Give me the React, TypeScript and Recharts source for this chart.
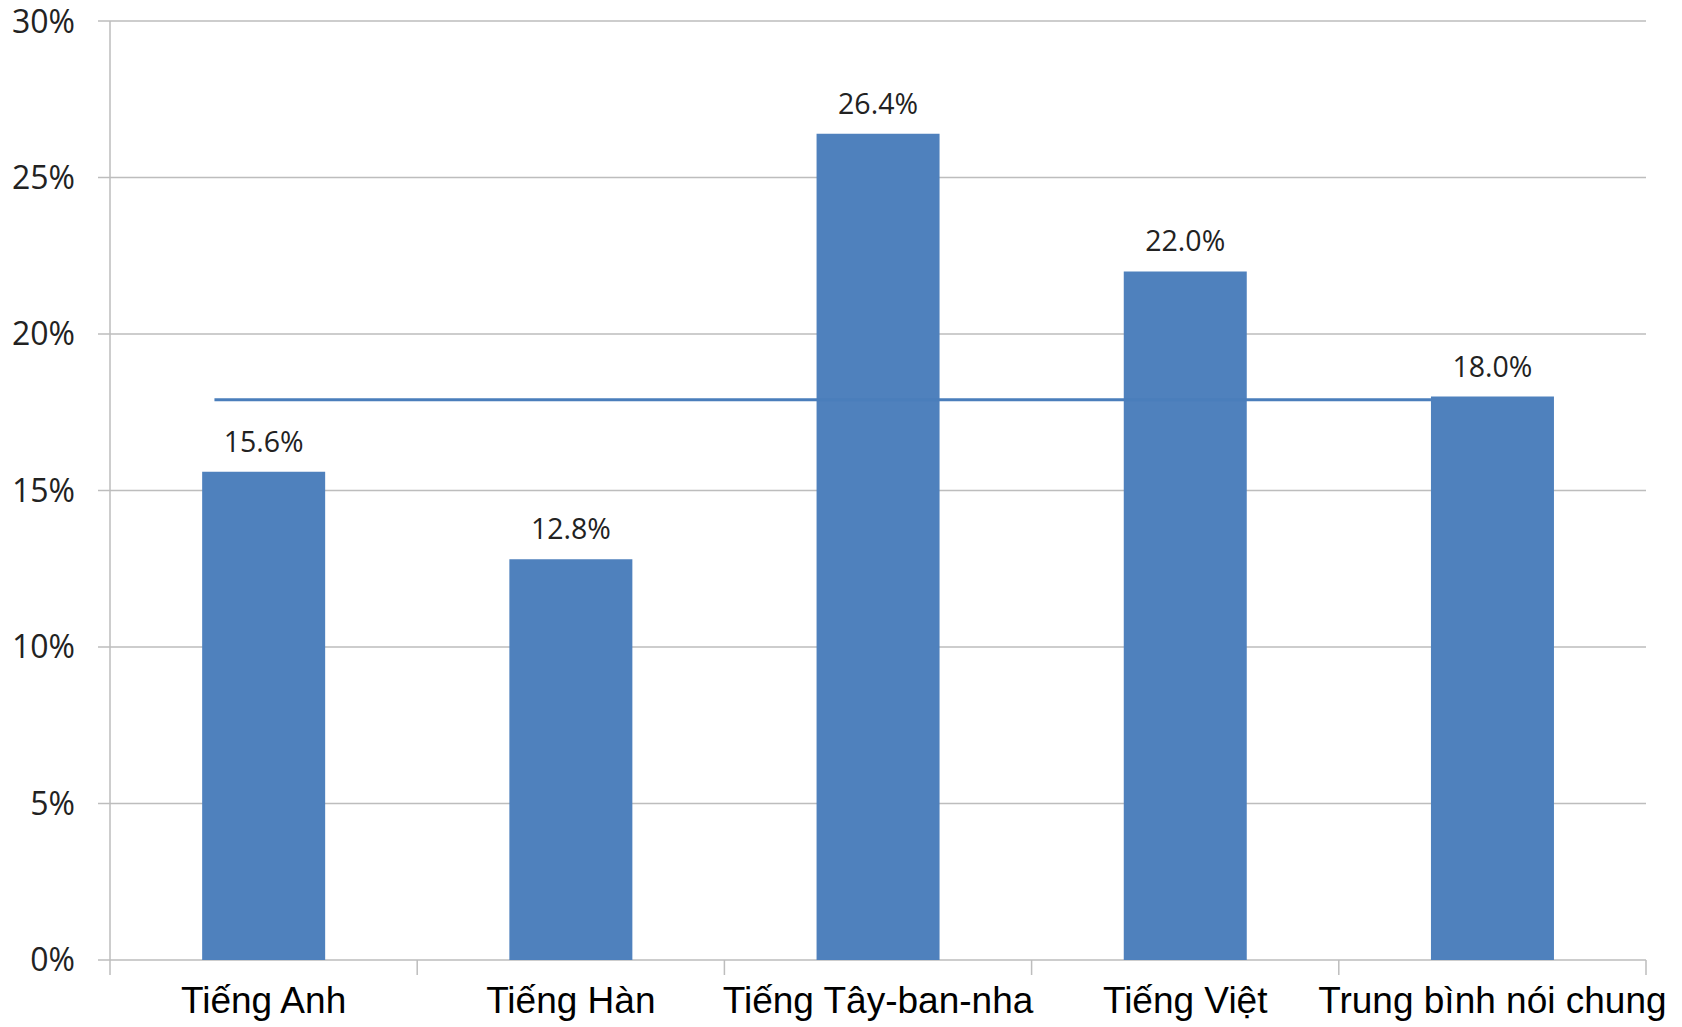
import React from "react";
import { ComposedChart, Bar, XAxis, YAxis, CartesianGrid, LabelList, ReferenceLine } from "recharts";

const categories = ["Tiếng Anh", "Tiếng Hàn", "Tiếng Tây-ban-nha", "Tiếng Việt", "Trung bình nói chung"];
const values = [15.6, 12.8, 26.4, 22.0, 18.0];
const yTicks = [0, 5, 10, 15, 20, 25, 30];
const averageValue = 17.9;
const avgLineFrom = 0.34; // in category units along the axis
const avgLineTo = 4.3;

const data = categories.map((name, i) => ({ name, value: values[i], idx: i + 0.5 }));

const GRID = "#bdbdbd";
const X_TICK_SIZE = 0;
const X_TICK_MARGIN = 27;
const BOUNDARY_TICK_LEN = 15;

function XTick(props: any) {
  const { x, y, payload, index, visibleTicksCount } = props;
  const half =
    payload && typeof payload.offset === "number" && payload.offset > 0
      ? payload.offset
      : props.width / (visibleTicksCount || 5) / 2;
  const axisY = y - X_TICK_SIZE - X_TICK_MARGIN;
  const isLast = index === (visibleTicksCount || 5) - 1;
  return (
    <g>
      <line x1={x - half} x2={x - half} y1={axisY} y2={axisY + BOUNDARY_TICK_LEN} stroke={GRID} strokeWidth={1.5} />
      {isLast && (
        <line x1={x + half} x2={x + half} y1={axisY} y2={axisY + BOUNDARY_TICK_LEN} stroke={GRID} strokeWidth={1.5} />
      )}
      <text
        x={x}
        y={y}
        dy="0.71em"
        textAnchor="middle"
        fill="#000"
        fontSize={37}
        fontFamily="Liberation Sans, Arial, sans-serif"
      >
        {payload.value}
      </text>
    </g>
  );
}

export default function App() {
  return (
    <div style={{ position: "absolute", left: 0, top: 0, background: "#fff" }}>
      <ComposedChart
        width={1682}
        height={1027}
        data={data}
        margin={{ top: 21, right: 36, left: 0, bottom: 0 }}
        barCategoryGap="30%"
      >
        <CartesianGrid vertical={false} stroke={GRID} strokeWidth={1.5} />
        <XAxis
          dataKey="name"
          height={67}
          tickLine={false}
          axisLine={false}
          tickSize={X_TICK_SIZE}
          tickMargin={X_TICK_MARGIN}
          interval={0}
          tick={<XTick />}
        />
        <XAxis
          xAxisId="n"
          dataKey="idx"
          type="number"
          domain={[0, 5]}
          allowDataOverflow
          hide
        />
        <YAxis
          domain={[0, 30]}
          ticks={yTicks}
          width={110}
          tickFormatter={(v) => `${v}%`}
          tickSize={12}
          tickMargin={23}
          tickLine={{ stroke: GRID, strokeWidth: 1.5 }}
          axisLine={{ stroke: GRID, strokeWidth: 1.5 }}
          tick={{ fill: "#222", fontSize: 32, fontFamily: "Open Sans, sans-serif" }}
        />
        <ReferenceLine
          xAxisId="n"
          segment={[
            { x: avgLineFrom, y: averageValue },
            { x: avgLineTo, y: averageValue },
          ]}
          stroke="#4a7ebb"
          strokeWidth={3}
        />
        <Bar dataKey="value" fill="#4F81BD" isAnimationActive={false}>
          <LabelList
            dataKey="value"
            position="top"
            offset={20}
            formatter={(v: number) => `${v.toFixed(1)}%`}
            style={{ fill: "#222", fontSize: 28.5, fontFamily: "Open Sans, sans-serif" }}
          />
        </Bar>
      </ComposedChart>
    </div>
  );
}
